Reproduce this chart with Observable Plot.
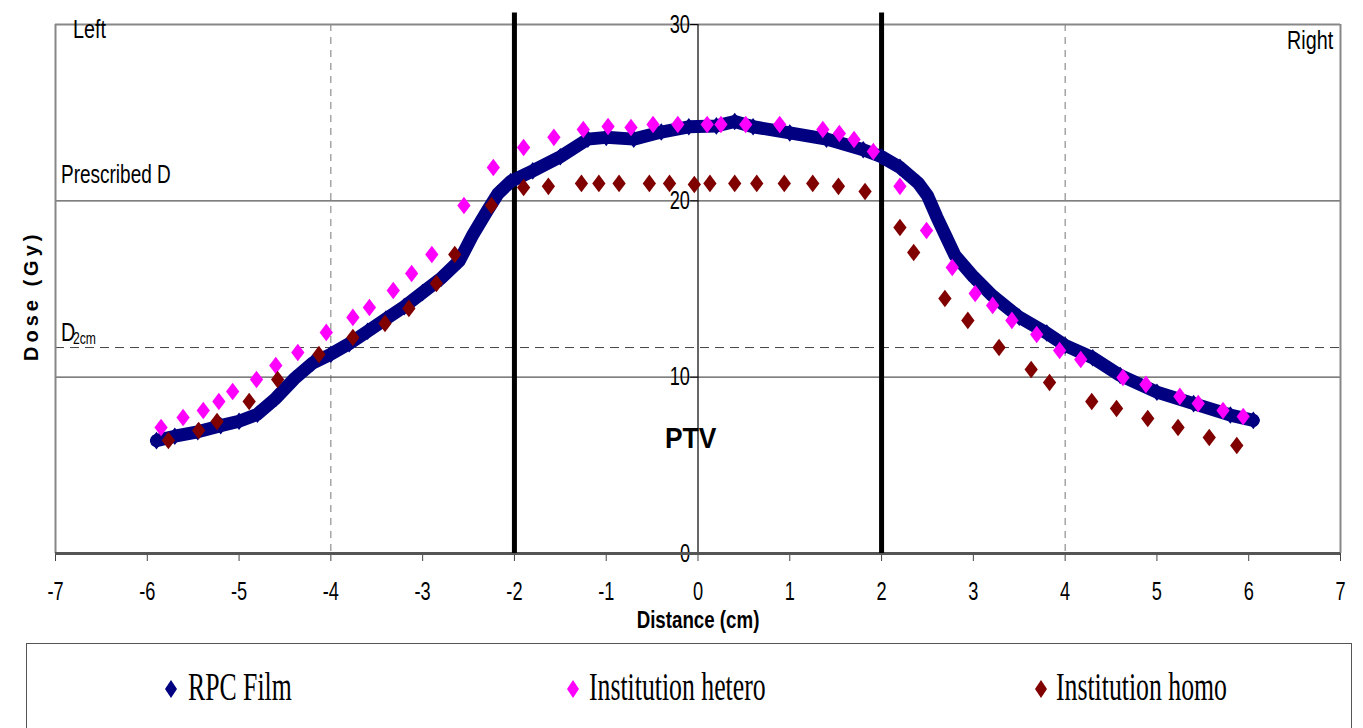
<!DOCTYPE html>
<html><head><meta charset="utf-8">
<script src="https://cdn.jsdelivr.net/npm/d3@7"></script>
<script src="https://cdn.jsdelivr.net/npm/@observablehq/plot@0.6"></script>
<style>
body{margin:0;background:#fff;}
#wrap{position:relative;width:1363px;height:728px;overflow:hidden;background:#fff;}
#legend{position:absolute;left:26px;top:643px;width:1326px;height:120px;border:1.5px solid #555;box-sizing:border-box;}
.mk{position:absolute;top:35px;}
.lt{position:absolute;top:20px;font-family:"Liberation Serif","Times New Roman",serif;font-size:39px;line-height:46px;transform:scaleX(0.66);transform-origin:left center;white-space:nowrap;color:#000;}
</style></head>
<body><div id="wrap"></div>
<script>
// ---- data ----
const rpcX = [-5.9,-5.7,-5.45,-5.2,-5.0,-4.8,-4.6,-4.4,-4.2,-4.0,-3.8,-3.6,-3.4,-3.2,-3.0,-2.8,-2.6,-2.45,-2.3,-2.18,-2.04,-1.8,-1.5,-1.2,-1.0,-0.7,-0.4,-0.1,0.2,0.4,0.6,1.0,1.4,1.8,2.0,2.2,2.4,2.5,2.6,2.7,2.8,3.0,3.2,3.5,3.8,4.0,4.3,4.6,5.0,5.4,5.8,6.05];
const rpcDose = [6.4,6.65,6.9,7.25,7.5,7.9,8.8,9.9,10.8,11.3,11.9,12.6,13.3,14.0,14.8,15.6,16.6,18.1,19.4,20.4,21.1,21.7,22.5,23.5,23.6,23.5,23.9,24.2,24.25,24.5,24.2,23.85,23.5,22.9,22.5,21.9,21.0,20.3,19.1,18.0,16.9,15.7,14.65,13.4,12.5,11.8,11.1,10.1,9.15,8.5,7.85,7.55];

const heteroX = [-5.85,-5.61,-5.39,-5.22,-5.07,-4.81,-4.60,-4.36,-4.05,-3.76,-3.58,-3.32,-3.12,-2.90,-2.55,-2.23,-1.90,-1.57,-1.25,-0.98,-0.73,-0.49,-0.22,0.10,0.25,0.52,0.89,1.36,1.54,1.70,1.91,2.20,2.49,2.77,3.02,3.21,3.42,3.69,3.94,4.17,4.63,4.88,5.25,5.45,5.72,5.94];
const heteroDose = [7.15,7.71,8.11,8.62,9.19,9.87,10.66,11.40,12.54,13.39,13.95,14.92,15.88,16.96,19.74,21.89,23.03,23.60,24.05,24.22,24.16,24.33,24.33,24.33,24.33,24.33,24.33,24.05,23.82,23.48,22.80,20.82,18.32,16.22,14.75,14.07,13.22,12.42,11.51,11.00,9.98,9.59,8.91,8.51,8.11,7.77];

const homoX = [-5.77,-5.44,-5.24,-4.89,-4.58,-4.13,-3.76,-3.41,-3.15,-2.85,-2.65,-2.25,-1.90,-1.63,-1.27,-1.08,-0.86,-0.53,-0.31,-0.04,0.13,0.40,0.64,0.94,1.25,1.53,1.82,2.20,2.35,2.69,2.94,3.28,3.63,3.83,4.29,4.56,4.90,5.23,5.57,5.87];
const homoDose = [6.41,6.98,7.49,8.62,9.87,11.29,12.25,13.05,13.90,15.31,16.96,19.74,20.76,20.82,20.99,20.99,20.99,20.99,20.99,20.93,20.99,20.99,20.99,20.99,20.99,20.82,20.53,18.49,17.07,14.46,13.22,11.68,10.44,9.70,8.62,8.22,7.66,7.15,6.58,6.13];

const seriesNames = ["RPC Film","Institution hetero","Institution homo"];
const seriesColors = ["#000080","#ff00ff","#800000"];
const xTicks = [-7,-6,-5,-4,-3,-2,-1,0,1,2,3,4,5,6,7];
const yTicks = [0,10,20,30];
const gridX = [-4,4];
const gridY = [10,20];
const prescribedDose = 20;
const d2cmDose = 11.68;
const ptvEdges = [-2,2];

// ---- build tables ----
const rpc = rpcX.map((x,i)=>({x, y: rpcDose[i]}));
const hetero = heteroX.map((x,i)=>({x, y: heteroDose[i]}));
const homo = homoX.map((x,i)=>({x, y: homoDose[i]}));

const tallDiamond = {
  draw(ctx, size){
    const s = Math.sqrt(size);
    const w = s*0.5, h = s*0.66;
    ctx.moveTo(0,-h); ctx.lineTo(w,0); ctx.lineTo(0,h); ctx.lineTo(-w,0); ctx.closePath();
  }
};

const SANS = "'Liberation Sans', Arial, sans-serif";
const chart = Plot.plot({
  width: 1363, height: 640,
  marginLeft: 55, marginRight: 23, marginTop: 24, marginBottom: 87,
  x: {domain: [-7,7]},
  y: {domain: [0,30], axis: null},
  style: {fontFamily: SANS, fontSize: "26px", color: "#000", background: "#fff", overflow: "visible"},
  marks: [
    Plot.ruleX(gridX, {stroke: "#777", strokeDasharray: "7,6", strokeWidth: 1}),
    Plot.ruleY(gridY, {stroke: "#555", strokeWidth: 1.3}),
    Plot.ruleY([d2cmDose], {stroke: "#444", strokeDasharray: "9,6", strokeWidth: 1}),
    Plot.ruleY([30], {stroke: "#888", strokeWidth: 2}),
    Plot.ruleX([-7,7], {stroke: "#888", strokeWidth: 2}),
    Plot.ruleX([0], {y1: 0, y2: 30, stroke: "#000", strokeWidth: 1.2}),
    Plot.ruleY(yTicks, {x1: -0.08, x2: 0, stroke: "#000"}),
    Plot.text(yTicks, {x: 0, y: d => d, dx: -8, textAnchor: "end", text: d => String(d), fontSize: 26}),
    Plot.axisX({ticks: xTicks, tickSize: 8, tickPadding: 20, fontSize: 26, label: null, stroke: "#444", tickFormat: d => String(d)}),
    Plot.ruleY([0], {stroke: "#555", strokeWidth: 3}),
    Plot.ruleX(ptvEdges, {y1: 0, y2: 30.65, stroke: "#000", strokeWidth: 5}),
    Plot.line(rpc, {x: "x", y: "y", stroke: seriesColors[0], strokeWidth: 13, strokeLinejoin: "round", strokeLinecap: "round"}),
    Plot.dot(rpc, {x: "x", y: "y", symbol: tallDiamond, r: 7.5, fill: seriesColors[0]}),
    Plot.dot(hetero, {x: "x", y: "y", symbol: tallDiamond, r: 7.5, fill: seriesColors[1]}),
    Plot.dot(homo, {x: "x", y: "y", symbol: tallDiamond, r: 7.5, fill: seriesColors[2]}),
    Plot.text(["Left"], {x: -6.81, y: 30, dy: -5, lineAnchor: "top", textAnchor: "start", fontSize: 26}),
    Plot.text(["Right"], {x: 6.92, y: 30, dy: 6, lineAnchor: "top", textAnchor: "end", fontSize: 26}),
    Plot.text(["Prescribed D"], {x: -6.94, y: prescribedDose, dy: -26, textAnchor: "start", fontSize: 25}),
    Plot.text(["D"], {x: -6.94, y: d2cmDose, dy: -15, textAnchor: "start", fontSize: 26}),
    Plot.text(["2cm"], {x: -6.94, y: d2cmDose, dx: 12, dy: -9, textAnchor: "start", fontSize: 16}),
    Plot.text(["PTV"], {x: -0.08, y: 6.5, fontSize: 30, fontWeight: "bold"}),
    Plot.text(["Distance (cm)"], {frameAnchor: "bottom", dy: 74, fontSize: 24, fontWeight: "bold"}),
    Plot.text(["Dose (Gy)"], {frameAnchor: "left", rotate: -90, dx: -24, dy: 72, fontSize: 20, fontWeight: "bold"})
  ]
});

// condensed look of the original fonts
chart.querySelectorAll("text").forEach(t => {
  const s = t.textContent.trim();
  let sx = 0.76;
  if (/^-?\d+$/.test(s)) sx = 0.7;
  else if (s === "Dose (Gy)") { sx = 1; t.style.letterSpacing = "4px"; }
  else if (s === "PTV") sx = 0.88;
  else if (s === "Distance (cm)") sx = 0.78;
  const tr = t.getAttribute("transform");
  if (tr) t.setAttribute("transform", tr + ` scale(${sx},1)`);
  else {
    const x = +(t.getAttribute("x") || 0), y = +(t.getAttribute("y") || 0);
    t.setAttribute("x", 0); t.setAttribute("y", 0);
    t.setAttribute("transform", `translate(${x},${y}) scale(${sx},1)`);
  }
});

const wrap = document.getElementById("wrap");
wrap.appendChild(chart);

// legend
const legend = document.createElement("div");
legend.id = "legend";
const markLeft = [144, 546, 1014];
const textLeft = [161, 562, 1029];
seriesNames.forEach((name, i) => {
  const m = document.createElementNS("http://www.w3.org/2000/svg", "svg");
  m.setAttribute("width", 14); m.setAttribute("height", 20);
  m.setAttribute("class", "mk");
  m.style.left = (markLeft[i] - 7) + "px";
  m.innerHTML = `<polygon points="7,1 13,10 7,19 1,10" fill="${seriesColors[i]}"/>`;
  legend.appendChild(m);
  const t = document.createElement("div");
  t.className = "lt";
  t.style.left = textLeft[i] + "px";
  t.textContent = name;
  legend.appendChild(t);
});
wrap.appendChild(legend);
</script>
</body></html>
